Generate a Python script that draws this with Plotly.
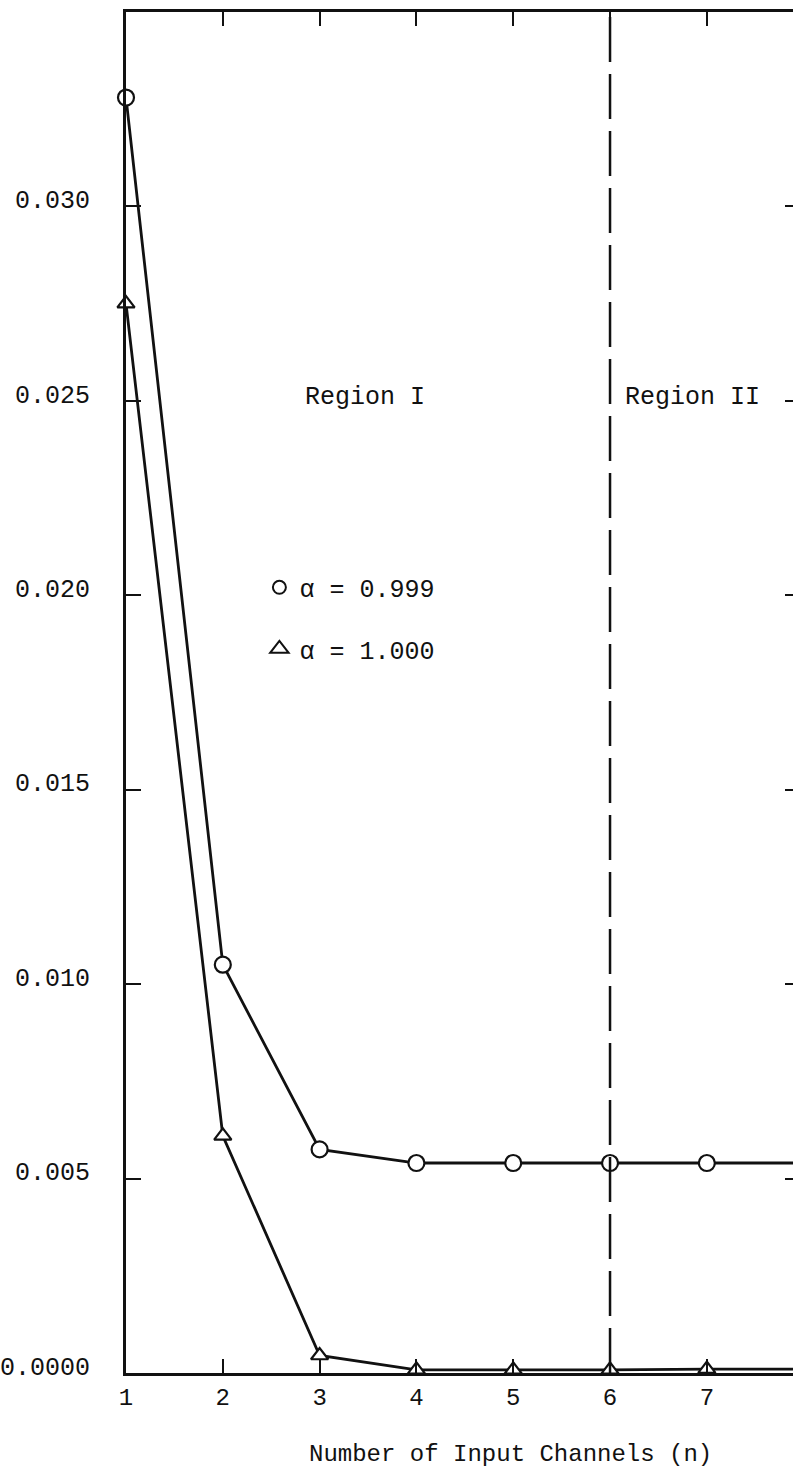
import plotly.graph_objects as go

# ---- data ----
channels = [1, 2, 3, 4, 5, 6, 7]
alpha_0999 = [0.0328, 0.0105, 0.00575, 0.0054, 0.0054, 0.0054, 0.0054]
alpha_1000 = [0.0275, 0.0061, 0.00045, 0.00008, 0.00008, 0.00008, 0.0001]
series_names = ["α = 0.999", "α = 1.000"]
x_continue = 8            # the curves run on past the last marked point
region_boundary = 6       # dashed line between Region I and Region II
y_tickvals = [0.0, 0.005, 0.010, 0.015, 0.020, 0.025, 0.030]
y_ticktext = ["0.0000", "0.005", "0.010", "0.015", "0.020", "0.025", "0.030"]
x_tickvals = channels
region_labels = ["Region I", "Region II"]
region_label_x = [3.47, 6.85]

FONT = "Liberation Mono, Courier New, monospace"
BLACK = "#111111"

fig = go.Figure()

# lines (clipped to plot area)
for vals in (alpha_0999, alpha_1000):
    fig.add_trace(go.Scatter(
        x=channels + [x_continue], y=vals + [vals[-1]],
        mode="lines", line=dict(color=BLACK, width=2.8),
        showlegend=False, hoverinfo="skip"))

# markers
fig.add_trace(go.Scatter(
    x=channels, y=alpha_0999, mode="markers", cliponaxis=False,
    marker=dict(symbol="circle", size=16, color="white",
                line=dict(color=BLACK, width=2.2)),
    showlegend=False, name=series_names[0]))
fig.add_trace(go.Scatter(
    x=channels, y=alpha_1000, mode="markers", cliponaxis=False,
    marker=dict(symbol="triangle-up", size=15, color="white",
                line=dict(color=BLACK, width=2.2)),
    showlegend=False, name=series_names[1]))

# legend-only entries
fig.add_trace(go.Scatter(
    x=[None], y=[None], mode="markers", name=series_names[0],
    legendgroup="a", marker=dict(symbol="circle-open", size=13, color=BLACK,
                                 line=dict(width=2))))
fig.add_trace(go.Scatter(
    x=[None], y=[None], mode="markers", name=series_names[1],
    legendgroup="b", marker=dict(symbol="triangle-up-open", size=20, color=BLACK,
                                 line=dict(width=2))))

# empty trace to carry the right-hand tick axis
fig.add_trace(go.Scatter(x=[None], y=[None], yaxis="y2", showlegend=False,
                         hoverinfo="skip"))

# region boundary
fig.add_shape(type="line", xref="x", yref="paper",
              x0=region_boundary, x1=region_boundary, y0=0, y1=1,
              line=dict(color=BLACK, width=2.5, dash="45px,12px"))

for lbl, lx in zip(region_labels, region_label_x):
    fig.add_annotation(x=lx, y=0.729, xref="x", yref="paper", text=lbl,
                       showarrow=False, font=dict(family=FONT, size=25, color=BLACK))

fig.add_annotation(x=0.577, y=-0.071, xref="paper", yref="paper",
                   text="Number of Input Channels (n)", showarrow=False,
                   font=dict(family=FONT, size=24, color=BLACK))

fig.update_layout(
    width=793, height=1475,
    margin=dict(l=120, r=0, t=12, b=102),
    paper_bgcolor="white", plot_bgcolor="white",
    font=dict(family=FONT, size=24, color=BLACK),
    xaxis=dict(range=[1, 7.89], tickvals=x_tickvals, ticks="inside",
               ticklen=14, tickwidth=2, tickcolor=BLACK,
               showline=True, linewidth=3, linecolor=BLACK, mirror="ticks",
               showgrid=False, zeroline=False,
               tickfont=dict(family=FONT, size=24, color=BLACK)),
    yaxis=dict(range=[0, 0.035], tickvals=y_tickvals, ticktext=y_ticktext,
               ticks="inside", ticklen=15, tickwidth=2, tickcolor=BLACK,
               showline=True, linewidth=3, linecolor=BLACK,
               showgrid=False, zeroline=False, ticklabelstandoff=28,
               ticklabelshift=-7,
               tickfont=dict(family=FONT, size=25, color=BLACK)),
    yaxis2=dict(range=[0, 0.035], overlaying="y", side="right",
                tickvals=y_tickvals, ticks="inside", ticklen=8, tickwidth=2,
                tickcolor=BLACK, showline=False, showticklabels=False,
                showgrid=False, zeroline=False),
    legend=dict(x=0.2, y=0.594, xanchor="left", yanchor="top",
                traceorder="grouped", tracegroupgap=26,
                bgcolor="rgba(0,0,0,0)",
                font=dict(family=FONT, size=25, color=BLACK)),
)

fig.write_html("out.html",
               config={"displayModeBar": False},
               post_script="document.body.style.margin='0';"
                           "document.body.style.overflow='hidden';")
